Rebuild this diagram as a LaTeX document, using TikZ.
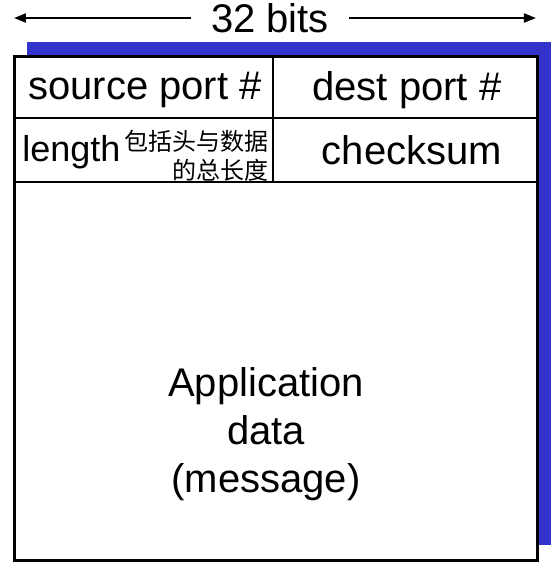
\documentclass[tikz,border=0pt]{standalone}
\usepackage{fontspec}
\setmainfont{Liberation Sans}
\newfontfamily\cjk{Noto Sans CJK SC}
\usetikzlibrary{arrows.meta}
\definecolor{shadowblue}{RGB}{51,51,204}
\tikzset{
  field/.style={font=\fontsize{20}{24}\selectfont, inner sep=0pt},
  bitarrow/.style={line width=1pt, -{Triangle[length=6pt,width=4.5pt]}}
}
\begin{document}
\begin{tikzpicture}[x=0.5pt,y=-0.5pt]
  \useasboundingbox (0,0) rectangle (557,570);

  % shadow and frame of the segment
  \fill[shadowblue] (27,42) rectangle (551,545);
  \draw[line width=1.5pt, fill=white] (15,56) rectangle (538,560);
  \draw[line width=1pt] (15,118) -- (538,118);
  \draw[line width=1pt] (13,182) -- (538,182);
  \draw[line width=1pt] (273,56) -- (273,182);

  % width of the header
  \node[field] (bits) at (270,18) {32 bits};
  \coordinate (leftend) at (14,18);
  \coordinate (rightend) at (536,18);
  \draw[bitarrow] ([xshift=-10pt]bits.west) -- (leftend);
  \draw[bitarrow] ([xshift=10pt]bits.east) -- (rightend);

  % header fields
  \node[field] (srcport) at (145,90) {source port \#};
  \node[field] (dstport) at (407,90) {dest port \#};
  \node[field, font=\fontsize{18}{22}\selectfont, anchor=west] (length) at (22,152) {length};
  \node[font=\cjk\fontsize{12}{14.5}\selectfont, align=right, inner sep=0pt,
        anchor=north east] (lengthnote) at (269,130) {包括头与数据\\的总长度};
  \node[field] (checksum) at (412,150) {checksum};

  % payload
  \node[field, align=center] (payload) at (266,434) {Application\\data\\(message)};
\end{tikzpicture}
\end{document}
